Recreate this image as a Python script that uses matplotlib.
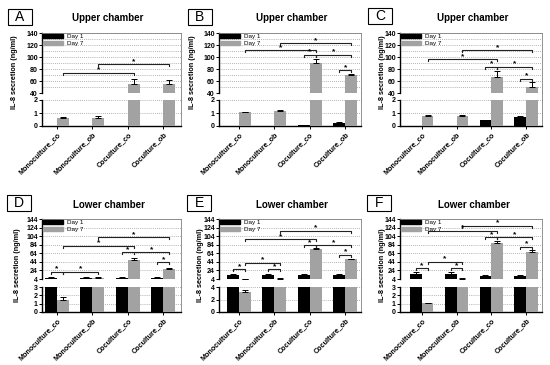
import matplotlib.pyplot as plt
from matplotlib.lines import Line2D
from matplotlib.patches import Rectangle

plt.rcParams['font.family'] = ['Liberation Sans', 'DejaVu Sans']

W, H = 550, 365

groups = ['Monoculture_co', 'Monoculture_ob', 'Coculture_co', 'Coculture_ob']
legend_labels = ['Day 1', 'Day 7']

# IL-8 secretion (ng/ml), means and upper error (SD)
# A - upper chamber
a_day1 = [0, 0, 0, 0]
a_day1_err = [0, 0, 0, 0]
a_day7 = [0.6, 0.65, 54.5, 54.5]
a_day7_err = [0.07, 0.1, 8.5, 6.5]
# significance brackets: (group, day, group, day, height)
a_sig = [(0, 7, 2, 7, 74), (1, 7, 3, 7, 88)]

# B - upper chamber
b_day1 = [0, 0, 0.05, 0.25]
b_day1_err = [0, 0, 0.01, 0.02]
b_day7 = [1.07, 1.17, 90.5, 70]
b_day7_err = [0.04, 0.04, 6, 2.5]
b_sig = [(0, 7, 2, 7, 111), (1, 7, 3, 7, 123), (2, 1, 2, 7, 104),
         (2, 7, 3, 7, 104), (3, 1, 3, 7, 78)]

# C - upper chamber
c_day1 = [0, 0, 0.46, 0.72]
c_day1_err = [0, 0, 0.03, 0.03]
c_day7 = [0.8, 0.8, 67, 50]
c_day7_err = [0.04, 0.04, 10, 9]
c_sig = [(0, 7, 2, 7, 96), (1, 7, 3, 7, 111), (2, 1, 2, 7, 84),
         (2, 7, 3, 7, 84), (3, 1, 3, 7, 64)]

# D - lower chamber
d_day1 = [7, 7, 7, 7]
d_day1_err = [1, 1, 1, 1]
d_day7 = [1.5, 7, 48, 27.5]
d_day7_err = [0.3, 1, 5, 2]
d_sig = [(0, 1, 0, 7, 21), (0, 7, 1, 7, 21), (0, 7, 2, 7, 82),
         (1, 7, 3, 7, 101), (2, 1, 2, 7, 66), (2, 7, 3, 7, 66), (3, 1, 3, 7, 43)]

# E - lower chamber
e_day1 = [14, 14, 14, 14]
e_day1_err = [1.5, 1.5, 1.5, 1.5]
e_day7 = [3.2, 5, 73, 50]
e_day7_err = [0.4, 0.5, 2.5, 1.5]
e_sig = [(0, 1, 0, 7, 27), (0, 7, 1, 7, 42), (1, 1, 1, 7, 27), (0, 7, 2, 7, 97),
         (1, 7, 3, 7, 117), (2, 1, 2, 7, 83), (2, 7, 3, 7, 83), (3, 1, 3, 7, 60)]

# F - lower chamber
f_day1 = [15, 15, 10, 11]
f_day1_err = [6, 6, 4, 3]
f_day7 = [1.05, 5, 88, 66]
f_day7_err = [0.02, 0.5, 5, 6]
f_sig = [(0, 1, 0, 7, 29), (0, 7, 1, 7, 44), (1, 1, 1, 7, 29), (0, 7, 2, 7, 116),
         (1, 7, 3, 7, 128), (2, 1, 2, 7, 101), (2, 7, 3, 7, 101), (3, 1, 3, 7, 79)]

fig = plt.figure(figsize=(5.5, 3.65), dpi=100)

def fx(x):
    return x / W

def fy(y):
    return 1 - y / H

cols = [(42, 181, -0.42, 3.5), (219, 361, -0.57, 3.45), (400, 542, -0.62, 3.45)]
rows = [(33, 93, 100, 126), (219, 279, 287, 312)]
title_x = [[108, 292, 473], [109, 292, 474]]
title_y = [18, 205]
ylab_x = [[15, 193, 382], [18, 201, 382]]
ylab_y = [72, 265]
boxes = [[(8, 9), (188, 9), (368, 8)], [(7, 195), (187, 195), (367, 195)]]

BLACK = '#000000'
GRAY = '#a2a2a2'
W_BAR = 0.34


def draw_bars(ax, d1, e1, d7, e7):
    for i in range(4):
        for off, v, e, c in ((-W_BAR / 2, d1[i], e1[i], BLACK), (W_BAR / 2, d7[i], e7[i], GRAY)):
            if v <= 0:
                continue
            ax.bar(i + off, v, W_BAR, color=c, zorder=3)
            ax.errorbar(i + off, v, yerr=[[0], [e]], fmt='none', ecolor='black',
                        elinewidth=0.7, capsize=2, capthick=0.7, zorder=4)


def style_axis(ax, yticks):
    ax.set_yticks(yticks)
    ax.tick_params(axis='y', labelsize=5, length=2, width=0.7, pad=1)
    for lab in ax.get_yticklabels():
        lab.set_fontweight('bold')
    ax.spines['left'].set_linewidth(1.0)
    ax.spines['right'].set_color('#808080')
    ax.spines['right'].set_linewidth(0.6)
    ax.grid(axis='y', which='both', linestyle=(0, (1, 1.5)), color='#9a9a9a', linewidth=0.6, zorder=0)
    ax.set_axisbelow(True)


def panel(r, c, letter, title, d1, e1, d7, e7, sig, upper, lower, up_ticks, low_ticks, minor):
    x0, x1, xl0, xl1 = cols[c]
    ut, ub, lt, lb = rows[r]
    ax_u = fig.add_axes([fx(x0), fy(ub), fx(x1 - x0), (ub - ut) / H])
    ax_l = fig.add_axes([fx(x0), fy(lb), fx(x1 - x0), (lb - lt) / H])
    for ax in (ax_u, ax_l):
        draw_bars(ax, d1, e1, d7, e7)
        ax.set_xlim(xl0, xl1)
    ax_u.set_ylim(*upper)
    ax_l.set_ylim(*lower)
    style_axis(ax_u, up_ticks)
    style_axis(ax_l, low_ticks)
    if minor:
        ax_u.set_yticks(range(upper[0], upper[1], 10), minor=True)
        ax_u.tick_params(axis='y', which='minor', length=0)
    ax_u.spines['bottom'].set_visible(False)
    ax_u.spines['top'].set_color('#808080')
    ax_u.spines['top'].set_linewidth(0.6)
    ax_u.set_xticks([])
    ax_l.spines['top'].set_visible(False)
    ax_l.spines['bottom'].set_linewidth(1.0)
    ax_l.set_xticks(range(4))
    ax_l.set_xticklabels(groups, rotation=45, ha='right', rotation_mode='anchor',
                         fontsize=5.2, fontweight='bold')
    ax_l.tick_params(axis='x', length=2, width=0.7, pad=1.5)
    # continuous right border across the break
    fig.add_artist(Line2D([fx(x1), fx(x1)], [fy(ub), fy(lt)], color='#808080', lw=0.6))

    # significance brackets
    span = upper[1] - upper[0]
    tick = span / 60 * 2
    for g1, dd1, g2, dd2, y in sig:
        xa = g1 + (-W_BAR / 2 if dd1 == 1 else W_BAR / 2)
        xb = g2 + (-W_BAR / 2 if dd2 == 1 else W_BAR / 2)
        ax_u.plot([xa, xa, xb, xb], [y - tick, y, y, y - tick], color='#222222', lw=0.8, zorder=5)
        ax_u.text((xa + xb) / 2, y - span * 0.01, '*', ha='center', va='bottom',
                  fontsize=6, fontweight='bold', zorder=6)

    h1 = Rectangle((0, 0), 1, 1, color=BLACK)
    h7 = Rectangle((0, 0), 1, 1, color=GRAY)
    ax_u.legend([h1, h7], legend_labels, loc='upper left', frameon=False, fontsize=4.5,
                handlelength=3.2, handleheight=0.7, borderaxespad=0.0, borderpad=0.15,
                labelspacing=0.2, handletextpad=0.7)

    fig.text(fx(title_x[r][c]), fy(title_y[r]), title, ha='center', va='center',
             fontsize=7, fontweight='bold')
    fig.text(fx(ylab_x[r][c]), fy(ylab_y[r]), 'IL-8 secretion (ng/ml)', ha='center', va='center',
             rotation=90, fontsize=5.2, fontweight='bold')
    bx, by = boxes[r][c]
    fig.add_artist(Rectangle((fx(bx), fy(by + 16)), fx(24), 16 / H, transform=fig.transFigure,
                             fill=False, edgecolor='black', lw=0.8))
    fig.text(fx(bx + 12), fy(by + 8), letter, ha='center', va='center', fontsize=10)


panel(0, 0, 'A', 'Upper chamber', a_day1, a_day1_err, a_day7, a_day7_err, a_sig,
      (40, 140), (0, 2), range(40, 141, 20), [0, 1, 2], True)
panel(0, 1, 'B', 'Upper chamber', b_day1, b_day1_err, b_day7, b_day7_err, b_sig,
      (40, 140), (0, 2), range(40, 141, 20), [0, 1, 2], True)
panel(0, 2, 'C', 'Upper chamber', c_day1, c_day1_err, c_day7, c_day7_err, c_sig,
      (40, 140), (0, 2), range(40, 141, 20), [0, 1, 2], True)
panel(1, 0, 'D', 'Lower chamber', d_day1, d_day1_err, d_day7, d_day7_err, d_sig,
      (4, 144), (0, 3), range(4, 145, 20), [0, 1, 2, 3], False)
panel(1, 1, 'E', 'Lower chamber', e_day1, e_day1_err, e_day7, e_day7_err, e_sig,
      (4, 144), (0, 4), range(4, 145, 20), [0, 2, 4], False)
panel(1, 2, 'F', 'Lower chamber', f_day1, f_day1_err, f_day7, f_day7_err, f_sig,
      (4, 144), (0, 3), range(4, 145, 20), [0, 1, 2, 3], False)

fig.savefig('out.png', dpi=100)
